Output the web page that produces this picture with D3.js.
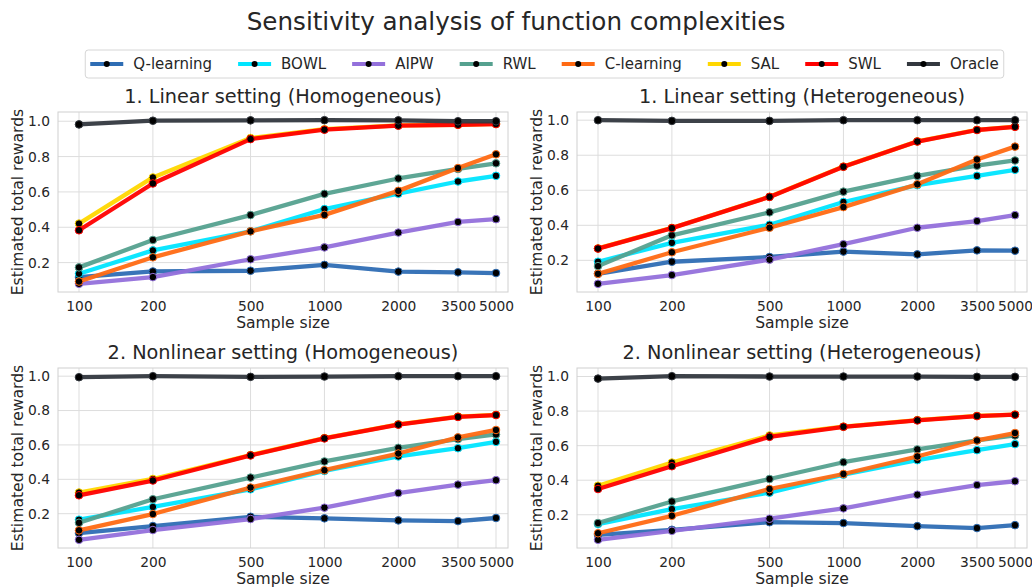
<!DOCTYPE html>
<html>
<head>
<meta charset="utf-8">
<script src="https://cdn.jsdelivr.net/npm/d3@7"></script>
<style>
  body { margin: 0; background: #fff; }
  svg { font-family: "DejaVu Sans", sans-serif; }
</style>
</head>
<body>
<div id="chart"></div>
<script>
const sampleSizes = [100, 200, 500, 1000, 2000, 3500, 5000];
const yTicks = [0.2, 0.4, 0.6, 0.8, 1.0];
const methods = ['Q-learning', 'BOWL', 'AIPW', 'RWL', 'C-learning', 'SAL', 'SWL', 'Oracle'];
const colors = ['#2e6db4', '#00e5ff', '#9370db', '#55a18f', '#ff6a13', '#ffd700', '#ff0000', '#33383f'];
const titles = [
  '1. Linear setting (Homogeneous)',
  '1. Linear setting (Heterogeneous)',
  '2. Nonlinear setting (Homogeneous)',
  '2. Nonlinear setting (Heterogeneous)',
];

// one row per method, in the order of `methods`
const linearHomogeneous = [
  [0.118, 0.150, 0.154, 0.187, 0.149, 0.145, 0.141],
  [0.137, 0.269, 0.377, 0.503, 0.590, 0.659, 0.691],
  [0.080, 0.118, 0.219, 0.286, 0.370, 0.430, 0.446],
  [0.173, 0.328, 0.469, 0.589, 0.676, 0.730, 0.762],
  [0.093, 0.230, 0.377, 0.470, 0.606, 0.735, 0.813],
  [0.421, 0.682, 0.905, 0.955, 0.977, 0.980, 0.985],
  [0.383, 0.648, 0.899, 0.952, 0.975, 0.980, 0.984],
  [0.982, 1.003, 1.005, 1.006, 1.005, 1.000, 1.000],
];
const linearHeterogeneous = [
  [0.123, 0.192, 0.219, 0.250, 0.234, 0.257, 0.255],
  [0.192, 0.300, 0.403, 0.533, 0.629, 0.682, 0.717],
  [0.066, 0.116, 0.204, 0.292, 0.386, 0.424, 0.458],
  [0.167, 0.343, 0.474, 0.592, 0.682, 0.740, 0.770],
  [0.123, 0.246, 0.386, 0.504, 0.634, 0.776, 0.849],
  [0.268, 0.385, 0.563, 0.735, 0.879, 0.945, 0.963],
  [0.267, 0.384, 0.562, 0.734, 0.878, 0.944, 0.962],
  [1.000, 0.996, 0.996, 1.000, 1.000, 1.000, 1.000],
];
const nonlinearHomogeneous = [
  [0.087, 0.128, 0.182, 0.173, 0.161, 0.157, 0.175],
  [0.165, 0.239, 0.342, 0.449, 0.533, 0.581, 0.618],
  [0.048, 0.105, 0.169, 0.235, 0.320, 0.369, 0.395],
  [0.147, 0.284, 0.410, 0.504, 0.583, 0.634, 0.661],
  [0.103, 0.198, 0.352, 0.453, 0.550, 0.644, 0.687],
  [0.323, 0.402, 0.541, 0.640, 0.720, 0.765, 0.775],
  [0.307, 0.393, 0.539, 0.638, 0.718, 0.763, 0.774],
  [0.994, 1.000, 0.996, 0.998, 1.000, 1.000, 1.000],
];
const nonlinearHeterogeneous = [
  [0.084, 0.113, 0.157, 0.152, 0.134, 0.123, 0.140],
  [0.146, 0.233, 0.328, 0.432, 0.516, 0.574, 0.609],
  [0.055, 0.107, 0.177, 0.237, 0.316, 0.372, 0.394],
  [0.152, 0.277, 0.407, 0.504, 0.578, 0.630, 0.659],
  [0.093, 0.194, 0.349, 0.436, 0.537, 0.630, 0.673],
  [0.368, 0.502, 0.659, 0.710, 0.748, 0.772, 0.780],
  [0.349, 0.481, 0.651, 0.709, 0.746, 0.771, 0.779],
  [0.988, 1.002, 1.000, 1.000, 1.000, 0.998, 0.998],
];
const panelData = [linearHomogeneous, linearHeterogeneous, nonlinearHomogeneous, nonlinearHeterogeneous];

const width = 1032;
const height = 587;
const panelW = 450;
const panelH = 180;
const lefts = [58, 577];
const tops = [112, 368];
const textColor = '#262626';

const svg = d3.select('#chart')
  .append('svg')
  .attr('width', width)
  .attr('height', height);

svg.append('text')
  .attr('x', 516)
  .attr('y', 23)
  .attr('text-anchor', 'middle')
  .attr('dominant-baseline', 'middle')
  .attr('font-size', 24.6)
  .attr('fill', textColor)
  .text('Sensitivity analysis of function complexities');

panelData.forEach((rows, p) => {
  const x0 = lefts[p % 2];
  const y0 = tops[Math.floor(p / 2)];
  const g = svg.append('g').attr('transform', `translate(${x0}, ${y0})`);

  const all = rows.flat();
  const lo = d3.min(all), hi = d3.max(all);
  const pad = (hi - lo) * 0.05;

  const x = d3.scaleLog()
    .domain([100, 5000])
    .range([21, panelW - 12]);
  const y = d3.scaleLinear()
    .domain([lo - pad, hi + pad])
    .range([panelH, 0]);

  // grid
  g.append('g')
    .selectAll('line')
    .data(sampleSizes)
    .join('line')
      .attr('x1', d => x(d))
      .attr('x2', d => x(d))
      .attr('y1', 0)
      .attr('y2', panelH)
      .attr('stroke', '#dddddd');
  g.append('g')
    .selectAll('line')
    .data(yTicks)
    .join('line')
      .attr('x1', 0)
      .attr('x2', panelW)
      .attr('y1', d => y(d))
      .attr('y2', d => y(d))
      .attr('stroke', '#dddddd');

  g.append('rect')
    .attr('width', panelW)
    .attr('height', panelH)
    .attr('fill', 'none')
    .attr('stroke', '#d0d0d0');

  // axes
  const xAxis = d3.axisBottom(x)
    .tickValues(sampleSizes)
    .tickFormat(d3.format('d'))
    .tickSize(0)
    .tickPadding(9);
  const xg = g.append('g')
    .attr('transform', `translate(0, ${panelH})`)
    .call(xAxis);
  const yAxis = d3.axisLeft(y)
    .tickValues(yTicks)
    .tickFormat(d3.format('.1f'))
    .tickSize(0)
    .tickPadding(8);
  const yg = g.append('g').call(yAxis);
  [xg, yg].forEach(a => {
    a.select('.domain').remove();
    a.selectAll('text')
      .attr('font-size', 13.8)
      .attr('font-family', '"DejaVu Sans", sans-serif')
      .attr('fill', textColor);
  });

  g.append('text')
    .attr('x', panelW / 2)
    .attr('y', panelH + 31)
    .attr('text-anchor', 'middle')
    .attr('dominant-baseline', 'middle')
    .attr('font-size', 15.6)
    .attr('fill', textColor)
    .text('Sample size');

  g.append('text')
    .attr('transform', `translate(-40, ${panelH / 2}) rotate(-90)`)
    .attr('text-anchor', 'middle')
    .attr('dominant-baseline', 'middle')
    .attr('font-size', 15.6)
    .attr('fill', textColor)
    .text('Estimated total rewards');

  g.append('text')
    .attr('x', panelW / 2)
    .attr('y', -15)
    .attr('text-anchor', 'middle')
    .attr('dominant-baseline', 'middle')
    .attr('font-size', 19.3)
    .attr('fill', textColor)
    .text(titles[p]);

  const line = d3.line()
    .x((_, i) => x(sampleSizes[i]))
    .y(d => y(d));

  rows.forEach((vals, m) => {
    g.append('path')
      .datum(vals)
      .attr('d', line)
      .attr('fill', 'none')
      .attr('stroke', colors[m])
      .attr('stroke-width', 4.3)
      .attr('stroke-opacity', 0.95)
      .attr('stroke-linejoin', 'round');
    g.append('g')
      .selectAll('circle')
      .data(vals)
      .join('circle')
        .attr('cx', (_, i) => x(sampleSizes[i]))
        .attr('cy', d => y(d))
        .attr('r', 3.8)
        .attr('fill', '#000')
        .attr('stroke', colors[m])
        .attr('stroke-width', 1);
  });
});

// legend
const legend = svg.append('g');
const box = legend.append('rect')
  .attr('rx', 3)
  .attr('fill', '#fff')
  .attr('stroke', '#d6d6d6');
const items = legend.append('g');
let cursor = 0;
methods.forEach((name, m) => {
  const item = items.append('g').attr('transform', `translate(${cursor}, 0)`);
  item.append('line')
    .attr('x1', 0)
    .attr('x2', 33)
    .attr('stroke', colors[m])
    .attr('stroke-width', 4);
  item.append('circle')
    .attr('cx', 16.5)
    .attr('r', 3)
    .attr('fill', '#000');
  const label = item.append('text')
    .attr('x', 43)
    .attr('dominant-baseline', 'middle')
    .attr('font-size', 15)
    .attr('fill', textColor)
    .text(name);
  cursor += 43 + label.node().getComputedTextLength() + 26;
});
const itemsW = cursor - 26;
const legendW = itemsW + 10;
const legendX = 544.5 - legendW / 2;
items.attr('transform', `translate(${legendX + 5}, 64)`);
box.attr('x', legendX)
  .attr('y', 50)
  .attr('width', legendW)
  .attr('height', 28);
</script>
</body>
</html>
